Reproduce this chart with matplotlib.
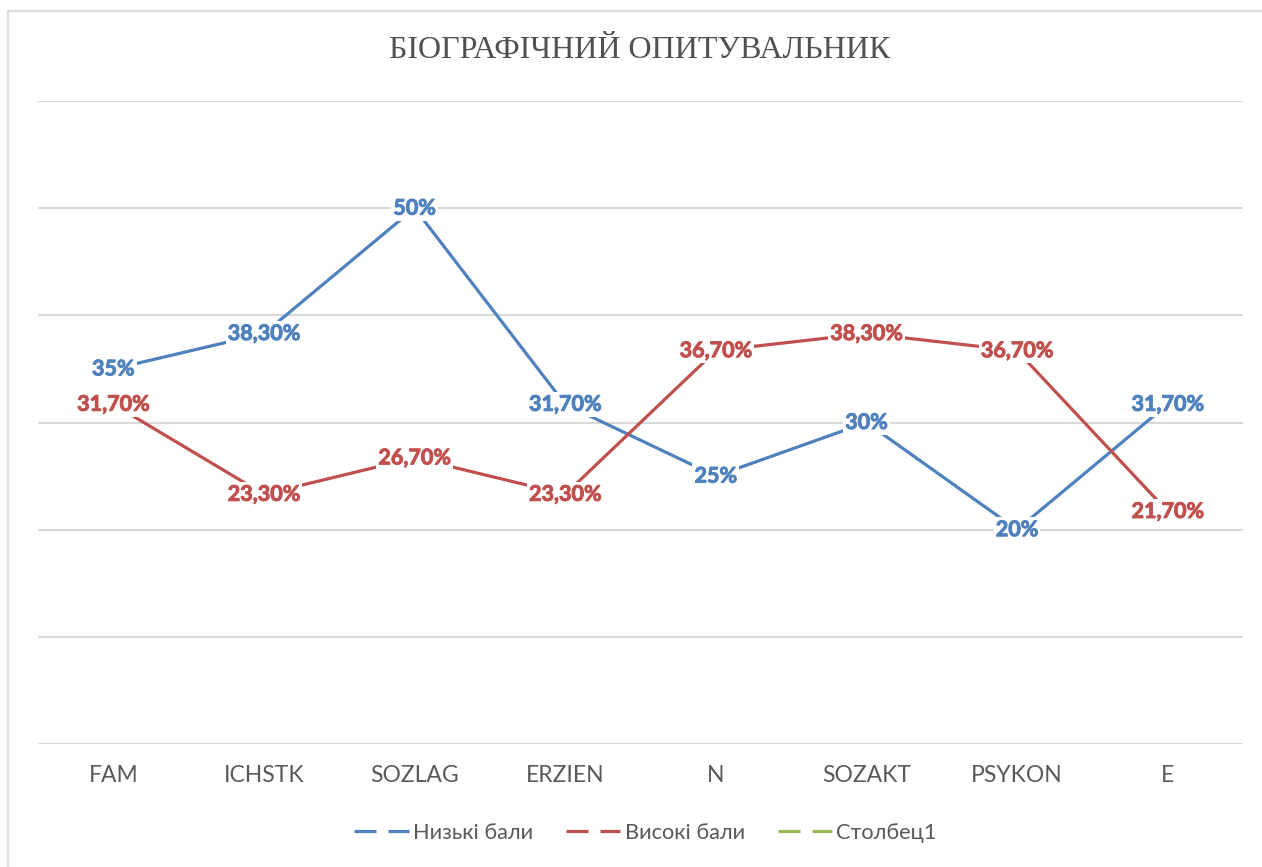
import matplotlib
matplotlib.use("Agg")
import matplotlib.pyplot as plt
import matplotlib.patheffects as pe
from matplotlib.patches import Rectangle
from matplotlib.lines import Line2D

categories = ["FAM", "ICHSTK", "SOZLAG", "ERZIEN", "N", "SOZAKT", "PSYKON", "E"]
low_scores = [0.35, 0.383, 0.50, 0.317, 0.25, 0.30, 0.20, 0.317]
high_scores = [0.317, 0.233, 0.267, 0.233, 0.367, 0.383, 0.367, 0.217]
low_labels = ["35%", "38,30%", "50%", "31,70%", "25%", "30%", "20%", "31,70%"]
high_labels = ["31,70%", "23,30%", "26,70%", "23,30%", "36,70%", "38,30%", "36,70%", "21,70%"]
series_names = ["Низькі бали", "Високі бали", "Столбец1"]

BLUE = "#4F81BD"
RED = "#C0504D"
GREEN = "#9BBB59"
GRID = "#D9D9D9"
TEXT = "#595959"

plt.rcParams["font.family"] = ["Lato", "DejaVu Sans"]

W, H = 1262, 867
fig = plt.figure(figsize=(W / 100, H / 100), dpi=100)
ax = fig.add_axes([38 / W, 1 - 744 / H, (1243 - 38) / W, (744 - 101) / H])

# chart border (only top/left visible in the reference)
fig.patches.append(Rectangle((8 / W, -0.1), 1.2, 1 - 11 / H + 0.1,
                             transform=fig.transFigure, fill=False,
                             edgecolor="#DDDDDD", lw=1.6))

x = list(range(len(categories)))
ax.plot(x, low_scores, color=BLUE, lw=2.3, zorder=3, solid_capstyle="round")
ax.plot(x, high_scores, color=RED, lw=2.3, zorder=3, solid_capstyle="round")

box = dict(facecolor="white", edgecolor="none", pad=1.5)
for xi, v, t in zip(x, low_scores, low_labels):
    ax.text(xi, v, t, ha="center", va="center", color=BLUE, fontsize=15.5,
            fontweight="bold", bbox=box, zorder=5,
            path_effects=[pe.withStroke(linewidth=0.7, foreground=BLUE)])
for xi, v, t in zip(x, high_scores, high_labels):
    ax.text(xi, v, t, ha="center", va="center", color=RED, fontsize=15.5,
            fontweight="bold", bbox=box, zorder=6,
            path_effects=[pe.withStroke(linewidth=0.7, foreground=RED)])

ax.set_xlim(-0.5, len(categories) - 0.5)
ax.set_ylim(0, 0.6)
ax.set_yticks([0, 0.1, 0.2, 0.3, 0.4, 0.5, 0.6])
ax.set_yticklabels([])
ax.tick_params(axis="y", length=0)
ax.set_xticks(x)
ax.set_xticklabels(categories, fontsize=16.5, color=TEXT)
ax.tick_params(axis="x", length=0, pad=15)
ax.grid(axis="y", color=GRID, lw=1.5, zorder=0)
ax.set_axisbelow(True)
for s in ax.spines.values():
    s.set_visible(False)

fig.text(0.507, 1 - 50 / H, "БІОГРАФІЧНИЙ ОПИТУВАЛЬНИК", ha="center",
         va="center", fontsize=23, color="#505050", family="Liberation Serif")

handles = [Line2D([], [], color=c, lw=2.3, dashes=(6.9, 3.75))
           for c in (BLUE, RED, GREEN)]
fig.legend(handles, series_names, loc="center", bbox_to_anchor=(0.5115, 1 - 833 / H),
           ncol=3, frameon=False, fontsize=15.7, handlelength=2.5,
           handletextpad=0.2, columnspacing=1.5, labelcolor=TEXT)

fig.savefig("out.png", dpi=100, facecolor="white")
